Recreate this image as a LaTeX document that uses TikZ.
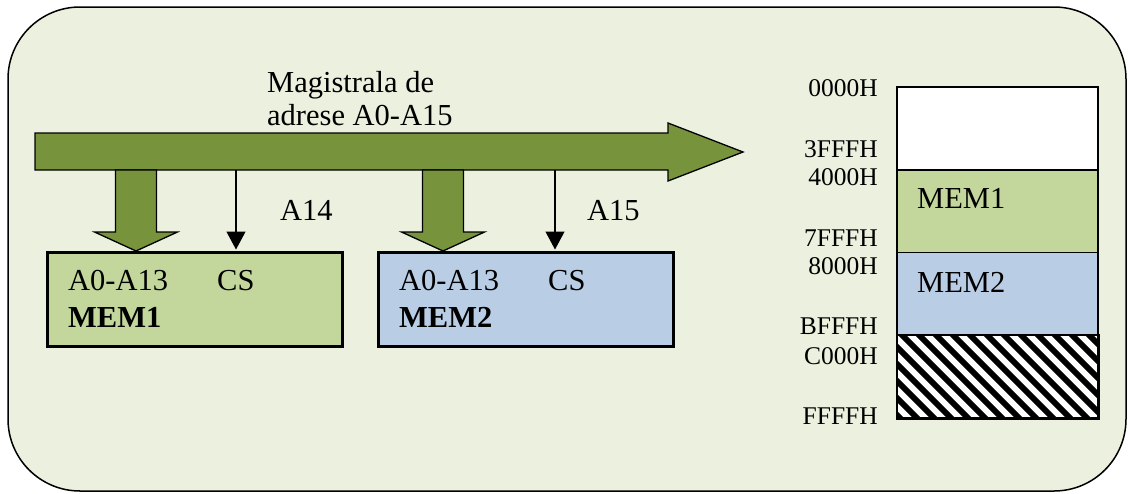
\documentclass[tikz,border=0pt]{standalone}
\usepackage{fontspec}
\setmainfont{Liberation Serif}
\usetikzlibrary{arrows.meta}
\definecolor{panelbg}{HTML}{EBF1DE}
\definecolor{busgreen}{HTML}{77933C}
\definecolor{memgreen}{HTML}{C3D69B}
\definecolor{memblue}{HTML}{B9CDE5}
\begin{document}
\begin{tikzpicture}[x=1pt,y=-1pt,
  txt/.style={font=\fontsize{30.5}{36}\selectfont, inner sep=0pt, anchor=base west},
  boldtxt/.style={txt, font=\fontsize{30.5}{36}\selectfont\bfseries},
  addr/.style={font=\fontsize{25.5}{30}\selectfont, inner sep=0pt, anchor=base east},
  membox/.style={draw, line width=3pt, minimum width=295pt, minimum height=94pt, inner sep=0pt},
  mapcell/.style={draw, line width=1.5pt, minimum width=201pt, minimum height=82.75pt, inner sep=0pt},
  fatarrow/.style={draw, fill=busgreen, line width=1.3pt, line join=miter},
  sig/.style={line width=1.3pt, -{Triangle[width=19pt,length=18pt]}, shorten >=1.5pt}]
\useasboundingbox (0,0) rectangle (1128,493);

% panel
\draw[fill=panelbg, line width=1.5pt, rounded corners=72pt] (8,7) rectangle (1126,491);

% address bus
\draw[fatarrow] (35,133) -- (668,133) -- (668,123) -- (743,152) -- (668,181)
  -- (668,170) -- (35,170) -- cycle;
\node[txt] (buslabel1) at (267,92) {Magistrala de};
\node[txt] (buslabel2) at (267,125) {adrese A0-A15};

% memory chips
\node[membox, fill=memgreen] (mem1) at (195,299.5) {};
\node[membox, fill=memblue] (mem2) at (525.5,299.5) {};

\node[txt] (m1addr) at (68,290) {A0-A13};
\node[txt] (m1cs) at (217,290) {CS};
\node[boldtxt] (m1name) at (68,327) {MEM1};
\node[txt] (m2addr) at (399,290) {A0-A13};
\node[txt] (m2cs) at (548,290) {CS};
\node[boldtxt] (m2name) at (399,327) {MEM2};

% A0-A13 branches of the bus
\foreach \cx in {136,443} {
  \draw[fatarrow] (\cx-20.5,170) -- (\cx+20.5,170) -- (\cx+20.5,232) -- (\cx+41.5,232)
    -- (\cx,251) -- (\cx-41.5,232) -- (\cx-20.5,232) -- cycle;
}

% chip select lines
\coordinate (tap14) at (236,170);
\coordinate (tap15) at (555,170);
\draw[sig] (tap14) -- (tap14 |- mem1.north);
\draw[sig] (tap15) -- (tap15 |- mem2.north);
\node[txt] (a14) at (280,220) {A14};
\node[txt] (a15) at (587,220) {A15};

% memory map
\node[mapcell, fill=white] (free0) at (997.5,128.375) {};
\node[mapcell, fill=memgreen] (map1) at (997.5,211.125) {};
\node[mapcell, fill=memblue] (map2) at (997.5,293.875) {};
\node[mapcell, fill=white] (free3) at (997.5,376.625) {};
\begin{scope}
  \clip (free3.north west) rectangle (free3.south east);
  \foreach \k in {-6,...,12}
    \draw[line width=6pt] (897+17*\k,330) -- ++(95,95);
\end{scope}
\draw[line width=1.5pt] (free3.north west) rectangle (free3.south east);

\node[txt] (map1txt) at (917,208) {MEM1};
\node[txt] (map2txt) at (917,292) {MEM2};

\node[addr] (l0000) at (878,96) {0000H};
\node[addr] (l3fff) at (878,157) {3FFFH};
\node[addr] (l4000) at (878,185) {4000H};
\node[addr] (l7fff) at (878,246) {7FFFH};
\node[addr] (l8000) at (878,274) {8000H};
\node[addr] (lbfff) at (878,334) {BFFFH};
\node[addr] (lc000) at (878,364) {C000H};
\node[addr] (lffff) at (878,424) {FFFFH};
\end{tikzpicture}
\end{document}
